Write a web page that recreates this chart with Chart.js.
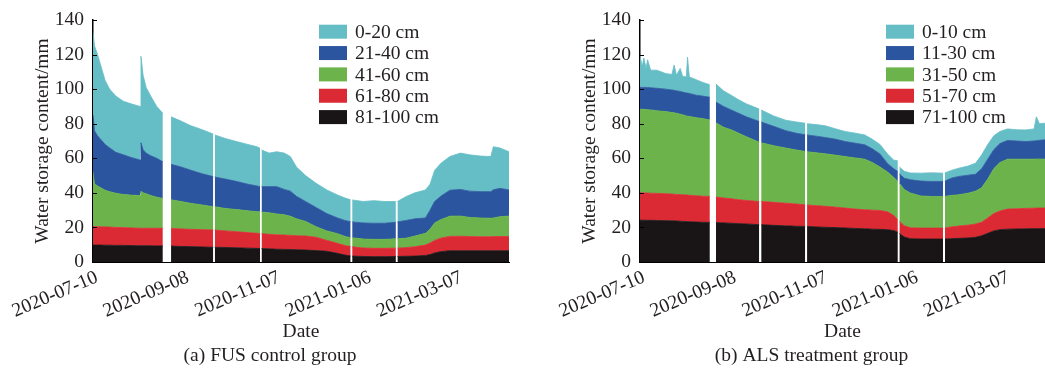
<!DOCTYPE html>
<html><head><meta charset="utf-8">
<script src="https://cdn.jsdelivr.net/npm/chart.js@4.4.1/dist/chart.umd.min.js"></script>
<style>
html,body{margin:0;padding:0;background:#fff;overflow:hidden;width:1045px;height:374px;}
#a{position:absolute;left:0;top:0;}
#b{position:absolute;left:525px;top:0;}
</style></head><body>
<canvas id="a" width="525" height="374"></canvas>
<canvas id="b" width="520" height="374"></canvas>
<script>
// ---- shared axis ticks ----
const tickDays = [0, 60, 120, 180, 240];
const tickLabels = ['2020-07-10', '2020-09-08', '2020-11-07', '2021-01-06', '2021-03-07'];

// ---- (a) FUS control group: days since 2020-07-10, null = missing record ----
const fusDays = [0,1,3,5,8,11,15,20,25,31, 31.6,33,35,38,42,46,48.8,51.4,58,64, 72,79.2,79.7,80.2,87,95,102,108,110,110.5, 111,116,121,126,130,134,140,147,154,161, 166,169.7,170.2,170.7,178,185,192,199.5,200,200.5, 206,212,219,222,225,229,235,242,248,255, 262,263.7,268,274];
const fusLabels = ['0-20 cm', '21-40 cm', '41-60 cm', '61-80 cm', '81-100 cm'];
const fus_0_20 = [48,49,47,43,37,34,32.5,31,31,31, 50,43,38,34.5,30,28,null,27.5,26.5,25.8, 25.5,24.6,null,24.3,23.5,23.1,23,22.7,22.2,null, 21.2,19.4,20.2,21,20,17,15,14,13.7,13.3, 13,12.7,null,12.7,12.4,13.1,12.6,12,null,11.8, 13.8,15,16.2,15,18,19,19.5,21,21,20.6, 20.3,24.9,23.4,22.1];
const fus_21_40 = [33,31,29,28,26.5,25.3,23.7,23,21.8,20.6, 28,25,23.5,23,22.5,21.2,null,20.5,20,19.2, 18,17.4,null,17.2,17,16.2,15.4,14.9,14.6,null, 14.7,15.1,15.8,14.7,14.5,13,11.5,11.1,10,9.1, 9.2,9.3,null,9.2,9.3,9.3,9.3,9.6,null,9.7, 10.3,10,8.9,11,12.5,13.5,15,15.4,15.2,15.2, 15.4,16.3,16.4,15.1];
const fus_41_60 = [31.5,24.5,23.6,22.6,21.2,20.5,19.8,19.1,19,18.9, 21.5,20.5,20,19,18,17.3,null,16.6,15.9,15.1, 14.3,13.5,null,13.5,13,12.8,12.6,12.5,12.5,null, 12.5,12.5,12.1,11.7,11.1,9.8,8.5,6.1,5.5,5.6, 5.3,5.1,null,5.2,5.2,5.2,5.2,5.4,null,5.5, 5.4,6.2,6.8,8,10,10.7,11.7,11.7,11.1,10.9, 10.7,10.8,11.5,11.9];
const fus_61_80 = [10.7,10.7,10.6,10.6,10.6,10.5,10.4,10.3,10.2,10.1, 10.1,10.1,10.1,10.1,10.2,10.2,null,10.2,10.1,10, 10,10,null,10,9.6,9.3,9,8.7,8.7,null, 8.6,8.4,8.3,8.3,8.2,8.1,8.1,7.7,6.3,5.8, 5.5,5.4,null,5.4,4.9,4.8,4.8,4.8,null,4.8, 5,5.4,6,6.7,7.3,7.8,8.3,8.4,8.2,8.1, 8.1,8.2,8.2,8.2];
const fus_81_100 = [9.8,9.8,9.8,9.8,9.7,9.7,9.6,9.6,9.5,9.4, 9.4,9.4,9.4,9.4,9.3,9.3,null,9.2,9,8.9, 8.7,8.5,null,8.5,8.4,8.2,8,7.9,7.8,null, 7.8,7.6,7.4,7.3,7.2,7.1,6.9,6.6,6.2,5, 4,3.5,null,3.4,3.2,3.1,3.1,3.2,null,3.2, 3.3,3.4,3.8,4.3,5.2,6,6.5,6.5,6.5,6.5, 6.5,6.5,6.5,6.5];

// ---- (b) ALS treatment group ----
const alsDays = [0,1.5,2.5,4,5,7,11,17,21,22.5, 24,26.5,28,30.5,31.3,32.5,37,41,46,48, 50,55,60,65,70,78.5,79.2,79.8,88,96, 103,108.8,109.4,110,116,122,129,135,142,148, 153,158,163,167,169.8,170.3,170.8,174,178,185, 192,199.6,200.2,200.8,205,210,216,221,225,229, 233,237,242,248,254,259.5,261,263,266.7];
const alsLabels = ['0-10 cm', '11-30 cm', '31-50 cm', '51-70 cm', '71-100 cm'];
const als_0_10 = [18,12,17,11,16,10.2,10.5,9,9,14.7, 9,13.3,9.2,9.2,20.8,9.5,9,8,7.2,null, 10.5,9,8.5,7.8,7.5,7.2,null,7,6,6, 6.5,6.7,null,6.5,6.7,6.8,6,5.8,5.8,5.7, 5.5,5.5,5.5,5,6.1,null,4,4,3.9,4.6, 5,4.8,null,4.8,4.5,4.8,5.3,6.4,8,8.5, 8,7,6.7,6.5,6.7,7,13.8,9.6,9.6];
const als_11_30 = [12.6,12.6,12.7,12.8,12.9,12.8,13,13,13,13, 13,13.2,13.1,13.3,13.3,13.3,13,13,13.1,null, 12,12,11.5,11.5,11.5,12,null,12,11.2,10.1, 9.7,9.7,null,9.7,9.6,9.4,9.2,8.7,8.5,8.3, 8,7.5,5,5,5.8,null,5.5,6.5,7.7,8.6, 8.7,8.7,null,8.8,10,10.6,10.4,9.8,11,11.5, 11,11,10.8,10.5,10.2,10.5,10.6,10.8,11.2];
const als_31_50 = [48.4,48.4,48.3,48.3,48.2,48.2,47.8,47.5,47.2,47.1, 46.9,46.5,46.3,45.7,45.7,45.6,45.2,44.9,44.3,null, 42.9,41,39.9,38.5,36.9,34.3,null,34,32.8,31.9, 31.3,30.8,null,30.8,30.6,30.4,30.1,29.8,29.6,29.3, 27.5,25.2,23,22,22.1,null,22,21,20.1,18.6, 18.3,18.3,null,18.3,18.2,18.1,18.5,19,20,22.5, 26,28,28.9,28.7,28.5,28.4,28.4,28.4,28.3];
const als_51_70 = [15.8,15.8,15.8,15.8,15.8,15.7,15.7,15.6,15.5,15.4, 15.4,15.4,15.4,15.4,15.3,15.3,15.2,15.1,15,null, 14.8,14.4,14.2,13.8,13.6,13.4,null,13.4,13.3,13.1, 12.8,12.5,null,12.4,12.3,12.1,11.8,11.5,11.2,11, 11,10.9,10.3,8.8,7.3,null,7,6.5,6.3,6.3, 6.3,6.3,null,6.4,6.8,7.1,7.4,7.7,7.8,8.9, 10,10.8,11.6,11.7,11.8,11.8,11.9,11.9,11.9];
const als_71_100 = [24.2,24.2,24.2,24.1,24.1,24.1,24,23.9,23.8,23.8, 23.7,23.6,23.5,23.4,23.4,23.3,23.1,23,22.9,null, 22.8,22.6,22.4,22.2,22,21.6,null,21.6,21.2,20.9, 20.7,20.6,null,20.6,20.3,20.1,19.9,19.7,19.4,19.2, 19,18.9,18.7,18.2,17.2,null,16.5,14.5,13.5,13.3, 13.3,13.3,null,13.3,13.5,13.7,13.9,14.3,15.2,16.6, 18,18.7,19,19.1,19.2,19.3,19.3,19.3,19.3];

// colours for layers, top layer first
const layerColors = ['#65bec6', '#2c55a0', '#6bb34a', '#dc2a35', '#191517'];

const FONT = 'Liberation Serif, Times New Roman, serif';
const TXT = '#231f20';

const layerLegend = {
  id: 'layerLegend',
  afterDraw(chart, args, o) {
    const ctx = chart.ctx;
    ctx.save();
    ctx.font = o.size + 'px ' + FONT;
    ctx.textBaseline = 'middle';
    ctx.textAlign = 'left';
    o.labels.forEach((t, i) => {
      const cy = o.y + i * o.dy;
      ctx.fillStyle = layerColors[i];
      ctx.fillRect(o.x, cy - o.boxH / 2, o.boxW, o.boxH);
      ctx.fillStyle = TXT;
      ctx.fillText(t, o.x + o.boxW + o.gap, cy + 1);
    });
    ctx.restore();
  }
};
const innerTicks = {
  id: 'innerTicks',
  afterDraw(chart) {
    const s = chart.scales.y, a = chart.chartArea, ctx = chart.ctx;
    ctx.save();
    ctx.strokeStyle = '#000';
    ctx.lineWidth = 1;
    s.ticks.forEach(t => {
      const y = Math.round(s.getPixelForValue(t.value)) + 0.5;
      ctx.beginPath(); ctx.moveTo(a.left, y); ctx.lineTo(a.left + 4, y); ctx.stroke();
    });
    ctx.restore();
  }
};

function build(canvasId, days, layersTopFirst, labels, caption, xMax, padLeft, padRight, legendX) {
  const bottomFirst = layersTopFirst.slice().reverse();
  const colorsBottomFirst = layerColors.slice().reverse();
  const labelsBottomFirst = labels.slice().reverse();
  const datasets = bottomFirst.map((vals, i) => ({
    label: labelsBottomFirst[i],
    data: days.map((d, j) => ({ x: d, y: vals[j] })),
    backgroundColor: colorsBottomFirst[i],
    borderColor: colorsBottomFirst[i],
    borderWidth: 0.8,
    pointRadius: 0,
    tension: 0,
    spanGaps: false,
    fill: i === 0 ? 'origin' : '-1'
  }));
  const font = { family: FONT, size: 19.5 };
  return new Chart(document.getElementById(canvasId), {
    type: 'line',
    data: { datasets },
    plugins: [layerLegend, innerTicks],
    options: {
      responsive: false,
      animation: false,
      events: [],
      layout: { padding: { left: padLeft, right: padRight, top: 20, bottom: 0 } },
      plugins: {
        legend: { display: false },
        tooltip: { enabled: false },
        title: { display: true, position: 'bottom', text: caption, color: TXT,
                 font: { family: FONT, size: 19.5, weight: 'normal' }, padding: { top: 1, bottom: 6 } },
        layerLegend: { labels: labels, x: legendX, y: 31.7, dy: 21.35, boxW: 28, boxH: 14, gap: 8, size: 19.5 }
      },
      scales: {
        x: {
          type: 'linear', min: 0, max: xMax,
          grid: { display: false, drawTicks: false },
          border: { display: true, color: '#000', width: 1 },
          afterBuildTicks: s => { s.ticks = tickDays.map(v => ({ value: v })); },
          afterFit: s => { s.height = 81.6; s.paddingLeft = 0; s.paddingRight = 0; },
          ticks: { autoSkip: false, minRotation: 23, maxRotation: 23, padding: 4, labelOffset: 4, color: TXT, font,
                   callback: (v, i) => tickLabels[i] },
          title: { display: true, text: 'Date', color: TXT, font, padding: 0 }
        },
        y: {
          stacked: true, min: 0, max: 140, z: 1,
          grid: { display: false, drawTicks: false },
          border: { display: true, color: '#000', width: 1.5 },
          afterFit: s => { s.width = 62; s.paddingTop = 0; s.paddingBottom = 0; },
          ticks: { stepSize: 20, padding: 9, color: TXT, font },
          title: { display: true, text: 'Water storage content/mm', color: TXT, font, padding: 0 }
        }
      }
    }
  });
}

build('a', fusDays, [fus_0_20, fus_21_40, fus_41_60, fus_61_80, fus_81_100], fusLabels,
      '(a) FUS control group', 274, 31, 16, 319);
build('b', alsDays, [als_0_10, als_11_30, als_31_50, als_51_70, als_71_100], alsLabels,
      '(b) ALS treatment group', 266.7, 53, 0, 361);
</script>
</body></html>
